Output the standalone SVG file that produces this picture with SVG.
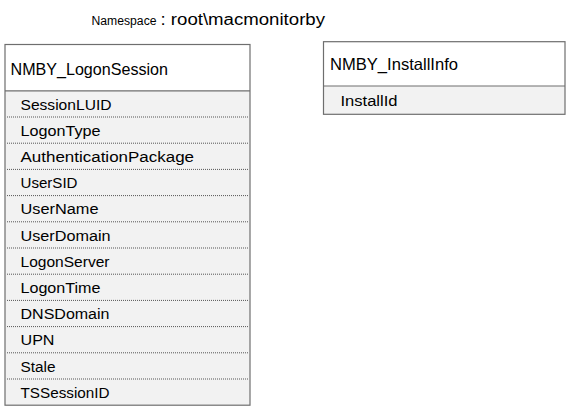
<svg xmlns="http://www.w3.org/2000/svg" width="570" height="412" viewBox="0 0 570 412">
<style>
text{font-family:"Liberation Sans",Arial,sans-serif;fill:#000}
.hd{font-size:16.5px}
.rw{font-size:15.5px}
.box{fill:none;stroke:#6e6e6e;stroke-width:1.2}
.rows{fill:#f2f2f2}
.sep{stroke:#6e6e6e;stroke-width:1.2}
.dot{stroke:#555;stroke-width:1;stroke-dasharray:1,1}
</style>
<rect width="570" height="412" fill="#fff"/>
<g id="namespace">
<text x="91.5" y="25" style="font-size:12px" textLength="65" lengthAdjust="spacingAndGlyphs">Namespace</text>
<text x="160.5" y="25" style="font-size:16px" textLength="164.5" lengthAdjust="spacingAndGlyphs">: root\macmonitorby</text>
</g>
<g id="NMBY_LogonSession">
<rect x="5" y="44.5" width="245" height="46" fill="#fff"/>
<rect x="5" y="90.8" width="245" height="314.4" class="rows"/>
<rect x="5" y="44.5" width="245" height="360.7" class="box"/>
<line x1="5" y1="90.8" x2="250" y2="90.8" class="sep"/>
<g class="dot">
<line x1="7" y1="117" x2="248" y2="117"/>
<line x1="7" y1="143.2" x2="248" y2="143.2"/>
<line x1="7" y1="169.4" x2="248" y2="169.4"/>
<line x1="7" y1="195.6" x2="248" y2="195.6"/>
<line x1="7" y1="221.8" x2="248" y2="221.8"/>
<line x1="7" y1="248" x2="248" y2="248"/>
<line x1="7" y1="274.2" x2="248" y2="274.2"/>
<line x1="7" y1="300.4" x2="248" y2="300.4"/>
<line x1="7" y1="326.6" x2="248" y2="326.6"/>
<line x1="7" y1="352.8" x2="248" y2="352.8"/>
<line x1="7" y1="379" x2="248" y2="379"/>
</g>
<text x="10.5" y="75" class="hd" textLength="157.5" lengthAdjust="spacingAndGlyphs">NMBY_LogonSession</text>
<text x="20.5" y="109.5" class="rw" textLength="91" lengthAdjust="spacingAndGlyphs">SessionLUID</text>
<text x="20.5" y="135.7" class="rw" textLength="80" lengthAdjust="spacingAndGlyphs">LogonType</text>
<text x="20.5" y="161.9" class="rw" textLength="173.5" lengthAdjust="spacingAndGlyphs">AuthenticationPackage</text>
<text x="20.5" y="188.1" class="rw" textLength="57" lengthAdjust="spacingAndGlyphs">UserSID</text>
<text x="20.5" y="214.3" class="rw" textLength="78" lengthAdjust="spacingAndGlyphs">UserName</text>
<text x="20.5" y="240.5" class="rw" textLength="90" lengthAdjust="spacingAndGlyphs">UserDomain</text>
<text x="20.5" y="266.7" class="rw" textLength="89" lengthAdjust="spacingAndGlyphs">LogonServer</text>
<text x="20.5" y="292.9" class="rw" textLength="80" lengthAdjust="spacingAndGlyphs">LogonTime</text>
<text x="20.5" y="319.1" class="rw" textLength="89" lengthAdjust="spacingAndGlyphs">DNSDomain</text>
<text x="20.5" y="345.3" class="rw" textLength="34" lengthAdjust="spacingAndGlyphs">UPN</text>
<text x="20.5" y="371.5" class="rw" textLength="35" lengthAdjust="spacingAndGlyphs">Stale</text>
<text x="20.5" y="397.7" class="rw" textLength="89" lengthAdjust="spacingAndGlyphs">TSSessionID</text>
</g>
<g id="NMBY_InstallInfo">
<rect x="323.5" y="41.7" width="241.5" height="44.3" fill="#fff"/>
<rect x="323.5" y="86" width="241.5" height="28.3" class="rows"/>
<rect x="323.5" y="41.7" width="241.5" height="72.6" class="box"/>
<line x1="323.5" y1="86" x2="565" y2="86" class="sep"/>
<text x="330" y="69.5" class="hd" textLength="128" lengthAdjust="spacingAndGlyphs">NMBY_InstallInfo</text>
<text x="340.5" y="105.5" class="rw" textLength="57" lengthAdjust="spacingAndGlyphs">InstallId</text>
</g>
<g id="connectors"/>
</svg>
